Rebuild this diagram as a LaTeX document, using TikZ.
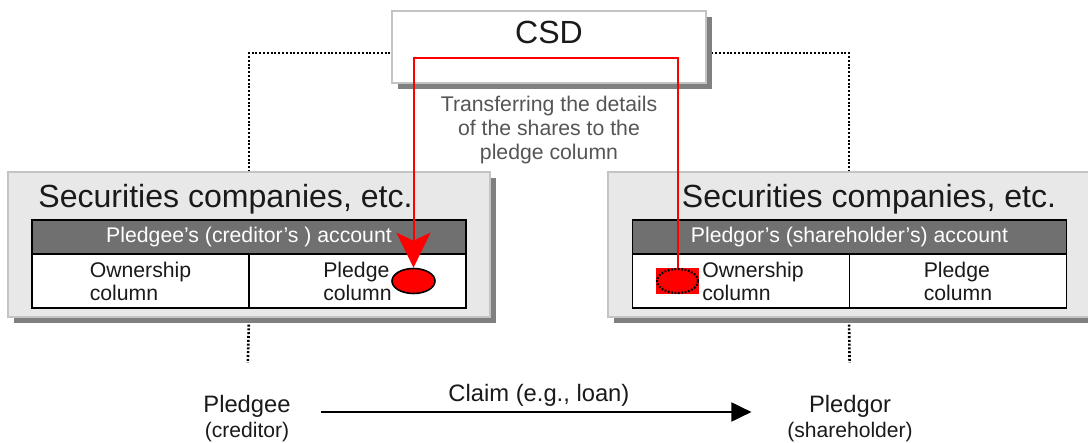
\documentclass[tikz,border=0pt]{standalone}
\usepackage{fontspec}
\setmainfont{Liberation Sans}
\usetikzlibrary{arrows.meta,positioning,shapes.geometric,shadows,backgrounds}
\definecolor{Canvas}{HTML}{FFFFFF}
\definecolor{Frame}{HTML}{C4C4C4}
\definecolor{Plate}{HTML}{E8E8E8}
\definecolor{Shade}{HTML}{808080}
\definecolor{Band}{HTML}{707070}
\definecolor{Ink}{HTML}{1A1A1A}
\definecolor{Note}{HTML}{555555}
\definecolor{Flow}{HTML}{FF0000}

\begin{document}
\begin{tikzpicture}[x=0.25mm,y=-0.25mm,>=Latex,big/.style={font=\fontsize{22.8}{26}\selectfont,text=Ink},csdbox/.style={rectangle,draw=Frame,line width=0.5mm,fill=white,minimum width=78.5mm,minimum height=18mm,inner sep=0pt,outer sep=0pt,drop shadow={shadow xshift=1.5mm,shadow yshift=-1.5mm,fill=Shade,opacity=1}},plate/.style={rectangle,draw=Frame,line width=0.4mm,fill=Plate,minimum width=120.5mm,minimum height=36.25mm,inner sep=0pt,outer sep=0pt,drop shadow={shadow xshift=1.5mm,shadow yshift=-1.5mm,fill=Shade,opacity=1}},band/.style={rectangle,draw=black,line width=0.45mm,fill=Band,text=white,font=\fontsize{15.1}{17}\selectfont,minimum width=108.5mm,minimum height=8.5mm,inner sep=0pt,outer sep=0pt},celltext/.style={align=left,text=Ink,font=\fontsize{15.1}{16.4}\selectfont,inner sep=0pt},cell/.style={celltext,rectangle,draw=black,line width=0.45mm,fill=white,minimum width=54.25mm,minimum height=13.5mm,outer sep=0pt},note/.style={align=center,text=Note,font=\fontsize{15.1}{17.2}\selectfont},party/.style={align=center,text=Ink,font=\fontsize{16.9}{17.8}\selectfont,inner sep=0pt},claim/.style={text=Ink,font=\fontsize{16.9}{19}\selectfont},dstmark/.style={ellipse,draw=black,line width=0.4mm,fill=Flow,minimum width=10.75mm,minimum height=6.25mm,inner sep=0pt},srcmark/.style={rectangle,fill=Flow,minimum width=10.75mm,minimum height=6.5mm,inner sep=0pt},srcring/.style={ellipse,draw=black,line width=0.55mm,dash pattern=on 0.45mm off 0.4mm,minimum width=10.25mm,minimum height=6mm,inner sep=0pt},linkline/.style={draw=black,line width=0.65mm,dash pattern=on 0.5mm off 0.45mm},flowline/.style={draw=Flow,line width=0.5mm,-{Stealth[length=8.75mm,width=8.5mm,inset=2mm]}},claimline/.style={draw=black,line width=0.5mm,-{Triangle[length=5mm,width=4.75mm]}}]
\useasboundingbox (0,0) rectangle (1088,443);
\node[csdbox] (csd) at (549,47) {};
\node[big,anchor=base] (csdname) at (549,43) {CSD};
\node[note] (move) at (549,130) {Transferring the details\\of the shares to the\\pledge column};
\node[plate] (firm1) at (249,244.5) {};
\node[plate] (firm2) at (849,244.5) {};
\node[big,anchor=base] (title1) at (225.5,207) {Securities companies, etc.};
\node[big,anchor=base] (title2) at (869,207) {Securities companies, etc.};
\node[band] (acct1) at (249,237) {Pledgee’s (creditor’s ) account};
\node[band] (acct2) at (849.5,237) {Pledgor’s (shareholder’s) account};
\node[cell,anchor=north west] (own1) at (acct1.south west) {Ownership\\column};
\node[cell,anchor=north east] (plg1) at (acct1.south east) {Pledge\\column};
\node[cell,anchor=north west] (own2) at (acct2.south west) {};
\node[cell,anchor=north east] (plg2) at (acct2.south east) {Pledge\\column};
\node[srcmark] (oldpos) at (677.5,281) {};
\node[srcring] (oldring) at (oldpos) {};
\node[celltext,anchor=west] (own2text) at (702,281) {Ownership\\column};
\node[dstmark] (newpos) at (413.5,281) {};
\node[party] (pledgee) at (247,419) {Pledgee\\{\fontsize{15}{17.8}\selectfont (creditor)}};
\node[party] (pledgor) at (850,419) {Pledgor\\{\fontsize{15}{17.8}\selectfont (shareholder)}};
\coordinate (bus) at (549,53);
\coordinate (over) at (549,58);
\begin{scope}[on background layer]
\fill[Canvas] (0,0) rectangle (1088,443);
\draw[linkline] (firm1.north) |- (bus) -| (firm2.north);
\draw[linkline,shorten >=8.15mm] (firm1.south) -- (pledgee.north);
\draw[linkline,shorten >=8.15mm] (firm2.south) -- (pledgor.north);
\end{scope}
\draw[flowline] (oldring.north) |- (over) -| (newpos.north);
\draw[claimline,shorten <=7.5mm,shorten >=8.9mm] ([yshift=1.75mm]pledgee.east) -- node[claim,above]{Claim (e.g., loan)} ([yshift=1.75mm]pledgor.west);
\end{tikzpicture}
\end{document}
